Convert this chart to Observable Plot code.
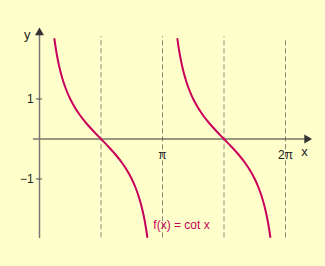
<!DOCTYPE html>
<html>
<head>
<meta charset="utf-8">
<script src="https://cdn.jsdelivr.net/npm/d3@7"></script>
<script src="https://cdn.jsdelivr.net/npm/@observablehq/plot@0.6"></script>
<style>
  html, body { margin: 0; padding: 0; background: #FFFFCC; }
  #chart { width: 325px; height: 266px; }
</style>
</head>
<body>
<div id="chart"></div>
<script>
// Branch 1 of f(x) = cot x (x in radians)
const branch1X = [0.38051, 0.42663, 0.46365, 0.50710, 0.55860, 0.62025, 0.69474, 0.78540, 0.89606, 1.03038, 1.19029, 1.37340, 1.57080, 1.76820, 1.95130, 2.11122, 2.24554, 2.35619, 2.44685, 2.52134, 2.58300, 2.63450, 2.67795, 2.71496, 2.75407];
const branch1Y = [2.5, 2.2, 2.0, 1.8, 1.6, 1.4, 1.2, 1.0, 0.8, 0.6, 0.4, 0.2, 0, -0.2, -0.4, -0.6, -0.8, -1.0, -1.2, -1.4, -1.6, -1.8, -2.0, -2.2, -2.45];
// Branch 2
const branch2X = [3.52210, 3.56822, 3.60524, 3.64869, 3.70019, 3.76184, 3.83633, 3.92699, 4.03765, 4.17197, 4.33188, 4.51499, 4.71239, 4.90979, 5.09289, 5.25281, 5.38713, 5.49778, 5.58844, 5.66293, 5.72459, 5.77609, 5.81954, 5.85655, 5.89566];
const branch2Y = [2.5, 2.2, 2.0, 1.8, 1.6, 1.4, 1.2, 1.0, 0.8, 0.6, 0.4, 0.2, 0, -0.2, -0.4, -0.6, -0.8, -1.0, -1.2, -1.4, -1.6, -1.8, -2.0, -2.2, -2.45];

const dashedX = [Math.PI / 2, Math.PI, 3 * Math.PI / 2, 2 * Math.PI];
const dashedTop = [2.56, 2.56, 2.56, 2.49];
const xTickValues = [Math.PI, 2 * Math.PI];
const xTickLabels = ["π", "2π"];
const yTickValues = [1, -1];
const yTickLabels = ["1", "−1"];
const curveLabel = "f(x) = cot x";

const curveData = [
  ...branch1X.map((x, i) => ({x, y: branch1Y[i], b: 1})),
  ...branch2X.map((x, i) => ({x, y: branch2Y[i], b: 2}))
];
const dashedData = dashedX.map((x, i) => ({x, top: dashedTop[i]}));

const font = "'Liberation Sans', Arial, Helvetica, sans-serif";
const curveColor = "#C8005A";

const plot = Plot.plot({
  width: 325,
  height: 266,
  margin: 0,
  style: {background: "#FFFFCC", fontFamily: font, fontSize: "12px", overflow: "visible"},
  x: {domain: [0, 2 * Math.PI], range: [39, 285]},
  y: {domain: [-1, 1], range: [178.5, 98.5]},
  axis: null,
  marks: [
    // dashed asymptote / reference lines
    Plot.ruleX(dashedData, {x: "x", y1: -2.47, y2: "top", stroke: "#8a8a7a", strokeWidth: 1, strokeDasharray: "5,3"}),
    // x axis
    Plot.ruleY([0], {x1: -0.153, x2: 6.85, stroke: "#333", strokeWidth: 1}),
    Plot.dot([0], {x: 6.83, y: 0, symbol: "triangle", r: 3.3, fill: "#333", stroke: null, rotate: 90}),
    // y axis
    Plot.ruleX([0], {y1: -2.49, y2: 2.62, stroke: "#777", strokeWidth: 1.5}),
    Plot.dot([0], {x: 0, y: 2.66, symbol: "triangle", r: 3.3, fill: "#333", stroke: null}),
    // y ticks
    Plot.ruleY(yTickValues, {x1: -0.08, x2: 0.08, stroke: "#555", strokeWidth: 1}),
    Plot.text(yTickValues, {x: -0.15, y: d => d, text: (d, i) => yTickLabels[i], textAnchor: "end", fill: "#222", fontSize: 12}),
    // x tick labels
    Plot.text(xTickValues, {x: d => d, y: -0.41, text: (d, i) => xTickLabels[i], fill: "#222", fontSize: 12}),
    // axis names
    Plot.text(["x"], {x: 6.77, y: -0.31, text: d => d, fill: "#222", fontSize: 13}),
    Plot.text(["y"], {x: -0.31, y: 2.6, text: d => d, fill: "#222", fontSize: 13}),
    // curve
    Plot.line(curveData, {x: "x", y: "y", z: "b", stroke: curveColor, strokeWidth: 2, curve: "monotone-x"}),
    Plot.text([curveLabel], {x: 3.627, y: -2.16, text: d => d, fill: curveColor, fontSize: 12})
  ]
});
document.getElementById("chart").appendChild(plot);
</script>
</body>
</html>
